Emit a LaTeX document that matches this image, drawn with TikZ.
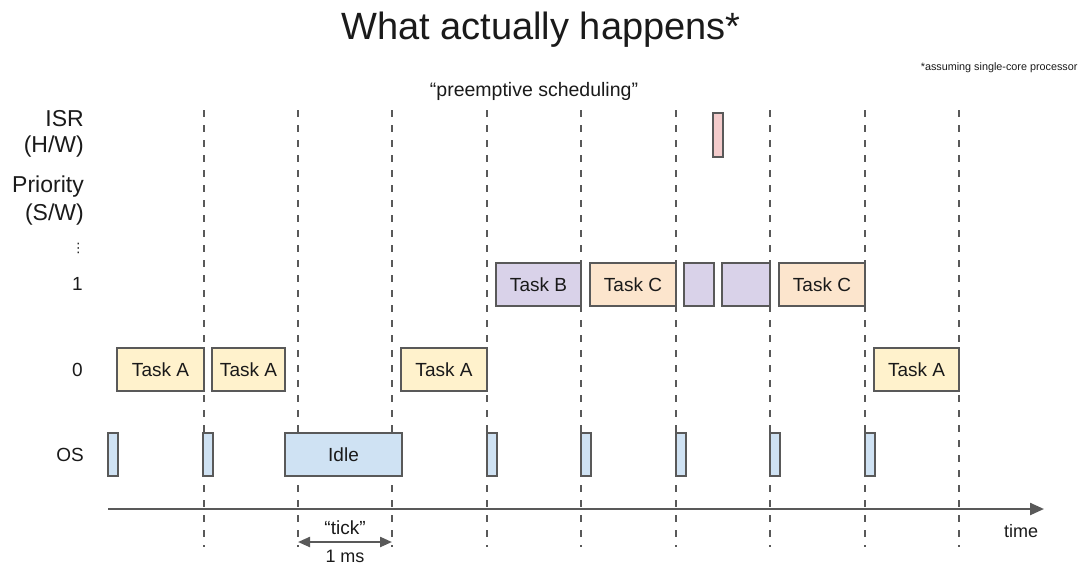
\documentclass[tikz,border=0pt]{standalone}
\usepackage{fontspec}
\setmainfont{Liberation Sans}
\newfontfamily\symfont{DejaVu Sans}
\usetikzlibrary{arrows.meta}
\definecolor{edge}{HTML}{595959}
\definecolor{fillA}{HTML}{FFF2CC}
\definecolor{fillB}{HTML}{D9D2E9}
\definecolor{fillC}{HTML}{FCE5CD}
\definecolor{fillOS}{HTML}{CFE2F3}
\definecolor{fillISR}{HTML}{F4CCCC}
\definecolor{ink}{HTML}{1A1A1A}
\begin{document}
\begin{tikzpicture}[x=1pt,y=-1pt,
  tickline/.style={draw=edge, line width=2.3pt, dash pattern=on 6.5pt off 8.5pt},
  slot/.style={draw=edge, line width=2.3pt},
  rowlabel/.style={anchor=east, font=\fontsize{23}{26}\selectfont, text=ink, inner sep=0pt},
  tasklabel/.style={font=\fontsize{19}{22}\selectfont, text=ink},
  every node/.style={text=ink}]
\useasboundingbox (0,0) rectangle (1087,566);

% headings
\node[font=\fontsize{38}{42}\selectfont] (title) at (541,30) {What actually happens*};
\node[anchor=east, font=\fontsize{10.8}{12}\selectfont] (note) at (1081,68) {*assuming single-core processor};
\node[font=\fontsize{19.5}{22}\selectfont] (mode) at (534,91) {“preemptive scheduling”};

% row labels
\node[rowlabel] (lisr1) at (84,119) {ISR};
\node[rowlabel] (lisr2) at (84,147) {(H/W)};
\node[rowlabel] (lpri1) at (84,187) {Priority};
\node[rowlabel] (lpri2) at (84,215) {(S/W)};
\node[rowlabel, font=\symfont\fontsize{13}{15}\selectfont] (ldots) at (85,248) {⋮};
\node[rowlabel, font=\fontsize{19}{22}\selectfont] (lone) at (83,284) {1};
\node[rowlabel, font=\fontsize{19}{22}\selectfont] (lzero) at (83,370) {0};
\node[rowlabel, font=\fontsize{19}{22}\selectfont] (los) at (84,455) {OS};

% scheduler tick boundaries
\foreach \x [count=\i] in {204,298,392,487,581,676,770,865,959} {
  \coordinate (t\i top) at (\x,110);
  \coordinate (t\i bot) at (\x,547);
  \draw[tickline] (t\i top) -- (t\i bot);
}

% time axis
\coordinate (axL) at (108,509);
\coordinate (axR) at (1044,509);
\draw[draw=edge, line width=2.3pt, -{Triangle[length=14pt,width=12pt]}] (axL) -- (axR);
\node[font=\fontsize{18}{21}\selectfont] (time) at (1021,531) {time};

% one tick interval
\coordinate (tkL) at (298,542);
\coordinate (tkR) at (392,542);
\draw[draw=edge, line width=2.3pt, {Triangle[length=12pt,width=10pt]}-{Triangle[length=12pt,width=10pt]}] (tkL) -- (tkR);
\node[font=\fontsize{19}{22}\selectfont] (tick) at (345,528) {“tick”};
\node[font=\fontsize{18}{21}\selectfont, inner sep=1pt] (ms) at (345,556) {1 ms};

% ISR
\path[slot, fill=fillISR] (713,113) rectangle (723,157);
\coordinate (isr) at (718,135);

% priority 1
\path[slot, fill=fillB] (496,263) rectangle (581,306);
\node[tasklabel] (tb) at (538.5,284.5) {Task B};
\path[slot, fill=fillC] (590,263) rectangle (676,306);
\node[tasklabel] (tc1) at (633,284.5) {Task C};
\path[slot, fill=fillB] (684,263) rectangle (714,306);
\path[slot, fill=fillB] (722,263) rectangle (770,306);
\path[slot, fill=fillC] (779,263) rectangle (865,306);
\node[tasklabel] (tc2) at (822,284.5) {Task C};

% priority 0
\path[slot, fill=fillA] (117,348) rectangle (204,391);
\node[tasklabel] (ta1) at (160.5,369.5) {Task A};
\path[slot, fill=fillA] (212,348) rectangle (285,391);
\node[tasklabel] (ta2) at (248.5,369.5) {Task A};
\path[slot, fill=fillA] (401,348) rectangle (487,391);
\node[tasklabel] (ta3) at (444,369.5) {Task A};
\path[slot, fill=fillA] (874,348) rectangle (959,391);
\node[tasklabel] (ta4) at (916.5,369.5) {Task A};

% OS
\foreach \x in {108,203,487,581,676,770,865} {
  \path[slot, fill=fillOS] (\x,433) rectangle (\x+10,476);
}
\path[slot, fill=fillOS] (285,433) rectangle (402,476);
\node[tasklabel] (idle) at (343.5,454.5) {Idle};
\end{tikzpicture}
\end{document}
